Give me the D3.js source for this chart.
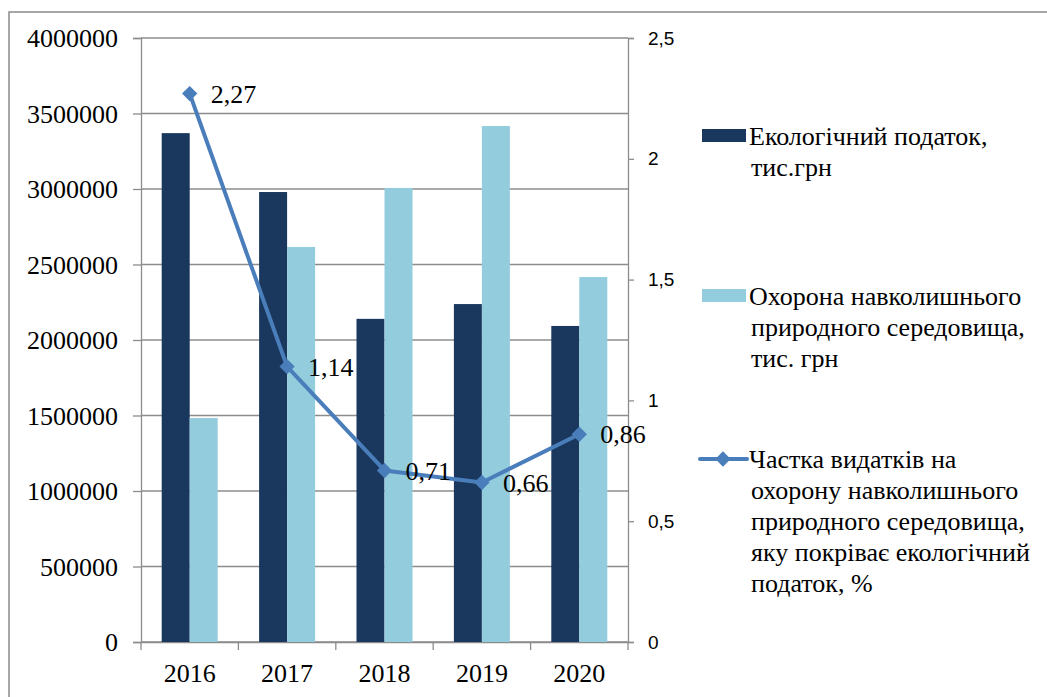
<!DOCTYPE html>
<html><head><meta charset="utf-8">
<script src="https://cdn.jsdelivr.net/npm/d3@7"></script>
<style>body{margin:0;background:#fff}</style>
</head><body>
<script>
const years = ["2016","2017","2018","2019","2020"];
const ecoTax = [3370000, 2980000, 2140000, 2238000, 2093000];
const envProtection = [1483000, 2616000, 3007000, 3417000, 2417000];
const share = [2.27, 1.14, 0.71, 0.66, 0.86];
const shareLabels = ["2,27","1,14","0,71","0,66","0,86"];
const leftTicks = [0,500000,1000000,1500000,2000000,2500000,3000000,3500000,4000000];
const rightTicks = [0,0.5,1,1.5,2,2.5];
const rightTickLabels = ["0","0,5","1","1,5","2","2,5"];
const legendItems = [
  {lines:["Екологічний податок,","тис.грн"], type:"bar", color:"#1a375e"},
  {lines:["Охорона навколишнього","природного середовища,","тис. грн"], type:"bar", color:"#93cddd"},
  {lines:["Частка видатків на","охорону навколишнього","природного середовища,","яку покріває екологічний","податок, %"], type:"line", color:"#4a7ebb"}
];

const W=1047,H=697;
const svg=d3.select("body").append("svg").attr("width",W).attr("height",H);
const serif="'Liberation Serif','Times New Roman',serif";
const sans="'Liberation Sans',Arial,sans-serif";

// outer border
svg.append("rect").attr("x",9).attr("y",12).attr("width",W).attr("height",H).attr("fill","none").attr("stroke","#8a8a8a").attr("stroke-width",1.5);

const L=141,R=628,T=38,B=642;
const x=d3.scaleBand().domain(years).range([L,R]).paddingInner(0).paddingOuter(0);
const y=d3.scaleLinear().domain([0,4000000]).range([B,T]);
const y2=d3.scaleLinear().domain([0,2.5]).range([B,T]);
const gridCol="#8c8c8c";

// gridlines
svg.append("g").selectAll("line").data(leftTicks).join("line")
  .attr("x1",L).attr("x2",R).attr("y1",d=>y(d)).attr("y2",d=>y(d))
  .attr("stroke",gridCol).attr("stroke-width",1.3);

// left axis
const ga=svg.append("g").attr("transform",`translate(${L},0)`)
  .call(d3.axisLeft(y).tickValues(leftTicks).tickFormat(d=>String(d)).tickSize(8).tickPadding(15));
ga.select(".domain").attr("stroke",gridCol).attr("stroke-width",1.3);
ga.selectAll(".tick line").attr("stroke",gridCol).attr("stroke-width",1.3);
ga.selectAll("text").attr("font-family",serif).attr("font-size",26).attr("fill","#000").attr("dy","0.33em");

// right axis
const gr=svg.append("g").attr("transform",`translate(${R},0)`)
  .call(d3.axisRight(y2).tickValues(rightTicks).tickFormat((d,i)=>rightTickLabels[i]).tickSize(6).tickPadding(14));
gr.select(".domain").attr("stroke",gridCol).attr("stroke-width",1.3);
gr.selectAll(".tick line").attr("stroke",gridCol).attr("stroke-width",1.3);
gr.selectAll("text").attr("font-family",sans).attr("font-size",19).attr("fill","#000");

// bottom axis
const gb=svg.append("g").attr("transform",`translate(0,${B})`)
  .call(d3.axisBottom(x).tickSize(0).tickPadding(22));
gb.select(".domain").attr("stroke",gridCol).attr("stroke-width",1.3);
gb.selectAll("text").attr("font-family",serif).attr("font-size",26).attr("fill","#000");
const bounds=years.map(d=>x(d)).concat([R]);
svg.append("g").selectAll("line").data(bounds).join("line")
  .attr("x1",d=>d).attr("x2",d=>d).attr("y1",B).attr("y2",B+8)
  .attr("stroke",gridCol).attr("stroke-width",1.3);

// bars
const bw=28;
const xs=d3.scaleBand().domain(["a","b"]).range([0,bw*2]);
svg.append("g").selectAll("rect").data(ecoTax).join("rect")
  .attr("x",(d,i)=>x(years[i])+x.bandwidth()/2-bw).attr("width",bw)
  .attr("y",d=>y(d)).attr("height",d=>B-y(d)).attr("fill","#1a375e");
svg.append("g").selectAll("rect").data(envProtection).join("rect")
  .attr("x",(d,i)=>x(years[i])+x.bandwidth()/2).attr("width",bw)
  .attr("y",d=>y(d)).attr("height",d=>B-y(d)).attr("fill","#93cddd");

// line
const cx=i=>x(years[i])+x.bandwidth()/2;
const line=d3.line().x((d,i)=>cx(i)).y(d=>y2(d));
svg.append("path").datum(share).attr("d",line).attr("fill","none")
  .attr("stroke","#4a7ebb").attr("stroke-width",4).attr("stroke-linejoin","round");
const diamond=d3.symbol().type(d3.symbolDiamond2).size(150);
svg.append("g").selectAll("path").data(share).join("path")
  .attr("d",diamond).attr("transform",(d,i)=>`translate(${cx(i)},${y2(d)}) rotate(0)`)
  .attr("fill","#4a7ebb");
svg.append("g").selectAll("text").data(share).join("text")
  .attr("x",(d,i)=>cx(i)+21).attr("y",d=>y2(d)).attr("dy","0.35em")
  .attr("font-family",serif).attr("font-size",26).attr("fill","#000")
  .text((d,i)=>shareLabels[i]);

// legend
const legTop=[145,305,468];
const lh=31;
legendItems.forEach((it,k)=>{
  const g=svg.append("g");
  const by=legTop[k];
  if(it.type==="bar"){
    g.append("rect").attr("x",702).attr("y",by-16).attr("width",44).attr("height",13).attr("fill",it.color);
  } else {
    g.append("line").attr("x1",700).attr("x2",747).attr("y1",by-9).attr("y2",by-9).attr("stroke",it.color).attr("stroke-width",4).attr("stroke-linecap","round");
    g.append("path").attr("d",diamond).attr("transform",`translate(723,${by-9})`).attr("fill",it.color);
  }
  const t=g.append("text").attr("font-family",serif).attr("font-size",26).attr("fill","#000");
  it.lines.forEach((s,j)=>{
    t.append("tspan").attr("x",j===0?749:751).attr("y",by+j*lh).text(s);
  });
});
</script>
</body></html>
